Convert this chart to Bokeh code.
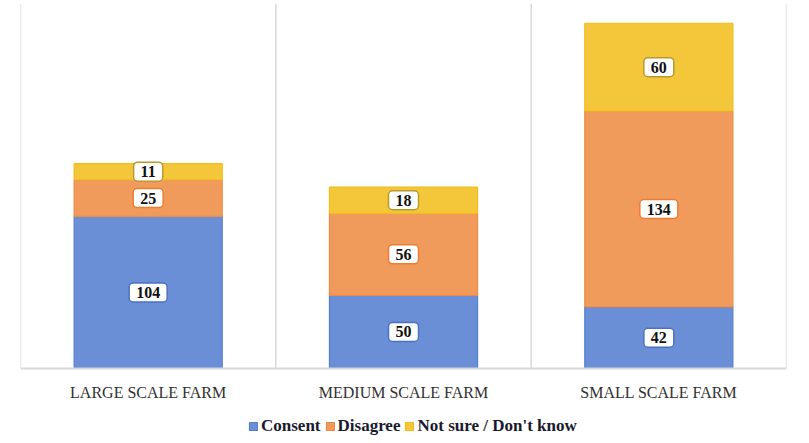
from bokeh.plotting import figure
from bokeh.models import ColumnDataSource, FactorRange, Span, Legend
from bokeh.core.properties import value
from bokeh.embed import file_html
from bokeh.resources import INLINE

categories = ["LARGE SCALE FARM", "MEDIUM SCALE FARM", "SMALL SCALE FARM"]
series = ["Consent", "Disagree", "Not sure / Don't know"]
consent = [104, 50, 42]
disagree = [25, 56, 134]
not_sure = [11, 18, 60]

fills = ["#6b8fd6", "#f09b5b", "#f4c73a"]
edges = ["#5580cc", "#ee8a44", "#f0bd1c"]
label_edges = ["#4a72c0", "#ed7d31", "#b8992e"]

keys = ["consent", "disagree", "not_sure"]
src = ColumnDataSource(dict(cat=categories, consent=consent, disagree=disagree, not_sure=not_sure))

Y_TOP = 249.5
p = figure(x_range=FactorRange(*categories, range_padding=0), y_range=(-51.3, Y_TOP),
           width=809, height=443, output_backend="svg", toolbar_location=None,
           min_border_left=20, min_border_right=23, min_border_top=3, min_border_bottom=0)

renderers = p.vbar_stack(keys, x="cat", width=0.58, source=src,
                         fill_color=fills, line_color=edges, line_width=1.2)

# vertical separators between categories (synthetic coordinates of the factor range)
n = len(categories)
sep = ColumnDataSource(dict(x=list(range(n + 1)), y0=[0] * (n + 1), y1=[Y_TOP] * (n + 1)))
p.segment(x0="x", y0="y0", x1="x", y1="y1", source=sep, line_color="#d9d9d9", line_width=1.5)

# baseline
p.add_layout(Span(location=0, dimension="width", line_color="#d9d9d9", line_width=2))

# value labels
bottoms = [0] * n
for vals, le in zip([consent, disagree, not_sure], label_edges):
    mids = [b + v / 2 for b, v in zip(bottoms, vals)]
    bottoms = [b + v for b, v in zip(bottoms, vals)]
    lsrc = ColumnDataSource(dict(x=categories, y=mids, t=[str(v) for v in vals]))
    p.text(x="x", y="y", text="t", source=lsrc, text_align="center", text_baseline="middle",
           text_font=value("Liberation Serif"), text_font_style="bold", text_font_size="16px",
           text_color="#111111", background_fill_color="white", border_line_color=le,
           border_line_width=1.5, border_radius=4, padding=(7, 4))

# category labels
csrc = ColumnDataSource(dict(x=categories, y=[-16.4] * n, t=categories))
p.text(x="x", y="y", text="t", source=csrc, text_align="center", text_baseline="middle",
       text_font=value("Liberation Serif"), text_font_size="16px", text_color="#303030")

p.axis.visible = False
p.grid.visible = False
p.outline_line_color = None

legend = Legend(items=[(s, [r]) for s, r in zip(series, renderers)], orientation="horizontal",
                location=(228, 7), border_line_color=None, background_fill_alpha=0,
                label_text_font="Liberation Serif", label_text_font_style="bold",
                label_text_font_size="17px", label_text_color="#1a1a2e",
                glyph_width=10, glyph_height=10, spacing=4, label_standoff=3,
                padding=2, margin=0)
p.add_layout(legend)

open("out.html", "w").write(file_html(p, INLINE))
